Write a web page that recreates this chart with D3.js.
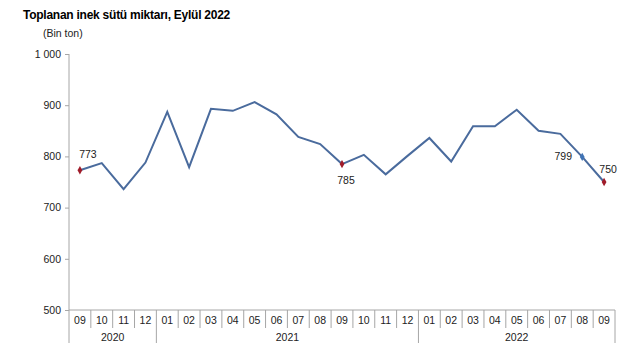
<!DOCTYPE html>
<html><head><meta charset="utf-8">
<script src="https://cdn.jsdelivr.net/npm/d3@7"></script>
<style>body{margin:0;background:#fff}svg{display:block;font-family:"Liberation Sans",Arial,sans-serif}</style>
</head><body><svg id="c" width="640" height="360"></svg>
<script>
const months = ["09","10","11","12","01","02","03","04","05","06","07","08","09","10","11","12","01","02","03","04","05","06","07","08","09"];
const years = ["2020","2021","2022"];
const yearSpans = [[0,4],[4,16],[16,25]];
const values = [773,787,736,788,887,779,893,889,906,882,838,824,785,803,765,801,836,790,859,859,891,850,844,799,750];
const yTicks = [500,600,700,800,900,1000];
const labeled = [{i:0,dx:8,dy:-16},{i:12,dx:4,dy:16},{i:23,dx:-19,dy:-1},{i:24,dx:4,dy:-13}];

const svg = d3.select("#c");
const L=69,R=615,T=54,B=310;
const x = d3.scaleBand().domain(d3.range(months.length)).range([L,R]);
const y = d3.scaleLinear().domain([500,1000]).range([B,T]);
const ax="#a6a6a6";

svg.append("text").attr("x",23).attr("y",19).attr("font-size",12).attr("letter-spacing",-0.25).attr("font-weight","bold").attr("fill","#000").text("Toplanan inek sütü miktarı, Eylül 2022");
svg.append("text").attr("x",43).attr("y",37).attr("font-size",10.5).attr("fill","#222").text("(Bin  ton)");

// y axis
const ya = svg.append("g").attr("transform",`translate(${L},0)`).call(d3.axisLeft(y).tickValues(yTicks).tickSize(4).tickPadding(4).tickFormat(d=>d===1000?"1 000":d));
ya.select(".domain").remove();
ya.selectAll("line").attr("stroke",ax);
ya.selectAll("text").attr("font-size",10.5).attr("fill","#222").attr("font-family","Liberation Sans, Arial, sans-serif");
svg.append("line").attr("x1",L).attr("x2",L).attr("y1",T).attr("y2",343).attr("stroke",ax);
svg.append("line").attr("x1",L).attr("x2",R).attr("y1",B).attr("y2",B).attr("stroke",ax);

// month separators
const bw=x.bandwidth();
d3.range(1,months.length+1).forEach(i=>{
  const xx=L+bw*i;
  const isYear = yearSpans.some(s=>s[1]===i);
  svg.append("line").attr("x1",xx).attr("x2",xx).attr("y1",B).attr("y2",isYear?343:328).attr("stroke",ax);
});
svg.append("g").selectAll("text").data(months).join("text")
  .attr("x",(d,i)=>x(i)+bw/2).attr("y",324).attr("text-anchor","middle").attr("font-size",10.5).attr("fill","#222").text(d=>d);
svg.append("g").selectAll("text").data(years).join("text")
  .attr("x",(d,i)=>L+bw*(yearSpans[i][0]+yearSpans[i][1])/2).attr("y",341).attr("text-anchor","middle").attr("font-size",10.5).attr("fill","#222").text(d=>d);

// line
const line = d3.line().x((d,i)=>x(i)+bw/2).y(d=>y(d));
svg.append("path").datum(values).attr("d",line).attr("fill","none").attr("stroke","#4a6b9d").attr("stroke-width",2);

// markers
labeled.forEach(o=>{
  const cx=x(o.i)+bw/2, cy=y(values[o.i]);
  const col = o.i===23?"#3f73b5":"#a01c2a";
  svg.append("path").attr("d",d3.symbol(d3.symbolDiamond,20)()).attr("transform",`translate(${cx},${cy})`).attr("fill",col);
  svg.append("text").attr("x",cx+o.dx).attr("y",cy+o.dy+4).attr("text-anchor","middle").attr("font-size",10.5).attr("fill","#222").text(values[o.i]);
});
</script></body></html>
